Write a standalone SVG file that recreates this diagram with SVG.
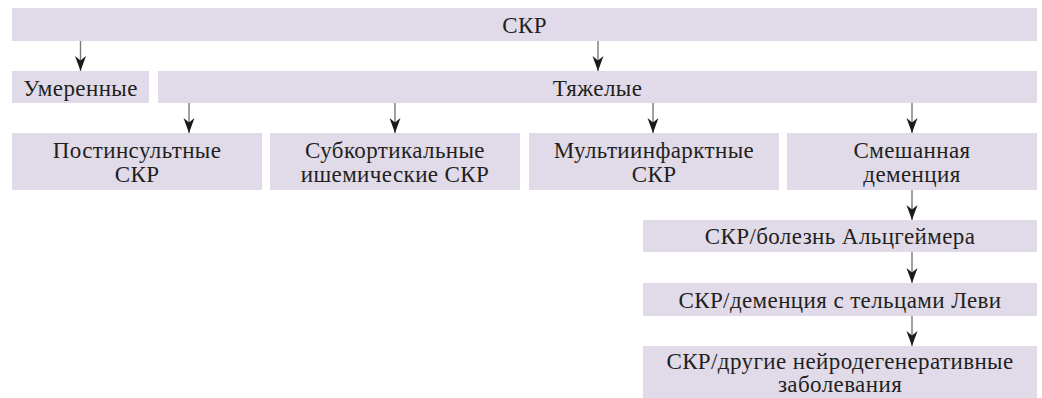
<svg xmlns="http://www.w3.org/2000/svg" width="1042" height="398" viewBox="0 0 1042 398">
<style>
.box{fill:#e1dbe9;}
.t{font-family:"Liberation Serif","DejaVu Serif","Noto Serif",serif;font-size:23px;letter-spacing:0.4px;fill:#231f20;text-anchor:middle;}
.c{stroke:#7a7a7a;stroke-width:1.4;fill:none;marker-end:url(#ah);}
</style>
<defs>
<marker id="ah" markerUnits="userSpaceOnUse" markerWidth="16" markerHeight="12" refX="15" refY="6" orient="auto">
<path d="M0,0.5 L15,6 L0,11.5 L4.5,6 Z" fill="#1a1a1a"/>
</marker>
</defs>
<rect width="1042" height="398" fill="#ffffff"/>
<g id="n-skr"><rect class="box" x="12" y="8" width="1025" height="33"/><text class="t" x="524.5" y="33">СКР</text></g>
<g id="n-moderate"><rect class="box" x="12" y="71" width="137" height="32"/><text class="t" x="80.5" y="95.5">Умеренные</text></g>
<g id="n-severe"><rect class="box" x="158" y="71" width="879" height="32"/><text class="t" x="597.5" y="95.5">Тяжелые</text></g>
<g id="n-poststroke"><rect class="box" x="12" y="133" width="250" height="57"/><text class="t" x="137" y="158">Постинсультные</text><text class="t" x="137" y="182">СКР</text></g>
<g id="n-subcortical"><rect class="box" x="270" y="133" width="250" height="57"/><text class="t" x="395" y="158">Субкортикальные</text><text class="t" x="395" y="182">ишемические СКР</text></g>
<g id="n-multiinfarct"><rect class="box" x="529" y="133" width="250" height="57"/><text class="t" x="654" y="158">Мультиинфарктные</text><text class="t" x="654" y="182">СКР</text></g>
<g id="n-mixed"><rect class="box" x="787" y="133" width="250" height="57"/><text class="t" x="912" y="158">Смешанная</text><text class="t" x="912" y="182">деменция</text></g>
<g id="n-alz"><rect class="box" x="643" y="220" width="394" height="32"/><text class="t" x="840" y="244">СКР/болезнь Альцгеймера</text></g>
<g id="n-lewy"><rect class="box" x="643" y="283" width="394" height="33"/><text class="t" x="840" y="307.5">СКР/деменция с тельцами Леви</text></g>
<g id="n-other"><rect class="box" x="643" y="346" width="394" height="60"/><text class="t" x="840" y="368.5">СКР/другие нейродегенеративные</text><text class="t" x="840" y="392">заболевания</text></g>
<g id="connectors">
<line class="c" x1="80.5" y1="41" x2="80.5" y2="71"/>
<line class="c" x1="598" y1="41" x2="598" y2="71"/>
<line class="c" x1="189" y1="103" x2="189" y2="133"/>
<line class="c" x1="395" y1="103" x2="395" y2="133"/>
<line class="c" x1="653" y1="103" x2="653" y2="133"/>
<line class="c" x1="912" y1="103" x2="912" y2="133"/>
<line class="c" x1="912" y1="190" x2="912" y2="220"/>
<line class="c" x1="912" y1="252" x2="912" y2="283"/>
<line class="c" x1="912" y1="316" x2="912" y2="346"/>
</g>
</svg>
